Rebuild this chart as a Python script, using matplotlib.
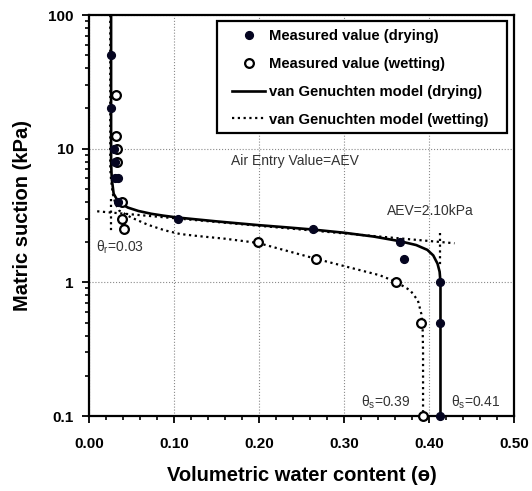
import matplotlib
matplotlib.use('Agg')
import matplotlib.pyplot as plt
from matplotlib.patches import Rectangle
from matplotlib.ticker import FixedLocator, NullFormatter, FixedFormatter

plt.rcParams['font.family'] = ['Liberation Sans', 'DejaVu Sans']
plt.rcParams['mathtext.fontset'] = 'custom'
plt.rcParams['mathtext.rm'] = 'Liberation Sans'
plt.rcParams['mathtext.it'] = 'Liberation Sans'

# Measured values
dry_theta = [0.026, 0.026, 0.029, 0.030, 0.031, 0.034, 0.034, 0.105, 0.264, 0.366, 0.371, 0.4135, 0.4135, 0.4135]
dry_h = [50, 20, 10, 8, 6, 6, 4, 3.0, 2.5, 2.0, 1.5, 1.0, 0.5, 0.1]
wet_theta = [0.032, 0.032, 0.033, 0.033, 0.039, 0.039, 0.041, 0.199, 0.267, 0.361, 0.391, 0.393]
wet_h = [25, 12.5, 10, 8, 4, 3.0, 2.5, 2.0, 1.5, 1.0, 0.5, 0.1]

# van Genuchten model curves
dry_model_theta = [0.026, 0.026, 0.0265, 0.027, 0.029, 0.034, 0.040, 0.046, 0.058, 0.073, 0.088, 0.105, 0.152, 0.199,
                   0.232, 0.264, 0.300, 0.335, 0.366, 0.385, 0.398, 0.405, 0.410, 0.4125, 0.4135, 0.4135]
dry_model_h = [100, 8.0, 6.5, 5.8, 4.6, 4.05, 3.80, 3.62, 3.42, 3.26, 3.15, 3.05, 2.85, 2.68,
               2.58, 2.48, 2.35, 2.20, 2.03, 1.90, 1.75, 1.59, 1.38, 1.2, 1.0, 0.1]
wet_model_theta = [0.025, 0.025, 0.026, 0.028, 0.031, 0.0355, 0.049, 0.069, 0.089, 0.107, 0.128,
                   0.160, 0.199, 0.230, 0.267, 0.311, 0.342, 0.361, 0.378, 0.387, 0.391, 0.3925, 0.393, 0.393]
wet_model_h = [100, 7.0, 5.8, 4.6, 3.9, 3.44, 3.07, 2.70, 2.45, 2.30, 2.22,
               2.12, 1.97, 1.74, 1.50, 1.27, 1.13, 1.01, 0.87, 0.73, 0.58, 0.46, 0.3, 0.1]

# construction lines
tangent_theta = [0.0096, 0.43]
tangent_h = [3.40, 1.96]
theta_r = 0.026
theta_r_h = [4.2, 2.33]
theta_s = 0.4135
theta_s_h = [2.32, 1.3]

x_ticks = [0.0, 0.1, 0.2, 0.3, 0.4, 0.5]
x_labels = ['0.00', '0.10', '0.20', '0.30', '0.40', '0.50']
y_ticks = [0.1, 1, 10, 100]
y_labels = ['0.1', '1', '10', '100']

fig = plt.figure(figsize=(5.32, 4.91), dpi=100)
ax = fig.add_axes([89/532, 1-416/491, 425/532, 401/491])
ax.set_xscale('linear')
ax.set_yscale('log')
ax.set_xlim(0, 0.5)
ax.set_ylim(0.1, 100)

ax.grid(True, which='major', color='#8a8a8a', linestyle=':', linewidth=0.8)
ax.set_axisbelow(True)

dk = '#050520'
dots = (0, (1, 1.6))
ax.plot(dry_model_theta, dry_model_h, '-', color='black', lw=1.9, label='van Genuchten model (drying)', zorder=3)
ax.plot(wet_model_theta, wet_model_h, linestyle=dots, color='black', lw=1.6,
        label='van Genuchten model (wetting)', zorder=3)
ax.plot(tangent_theta, tangent_h, linestyle=dots, color='black', lw=1.6, zorder=3)
ax.plot([theta_r, theta_r], theta_r_h, linestyle=dots, color='black', lw=1.6, zorder=3)
ax.plot([theta_s, theta_s], theta_s_h, linestyle=dots, color='black', lw=1.6, zorder=3)

ax.plot(wet_theta, wet_h, 'o', ms=6.3, mfc='white', mec='black', mew=1.6, ls='none',
        label='Measured value (wetting)', zorder=4, clip_on=False)
ax.plot(dry_theta, dry_h, 'o', ms=5.6, mfc=dk, mec=dk, mew=1, ls='none',
        label='Measured value (drying)', zorder=5, clip_on=False)

# legend frame drawn as a box, entries placed inside
ax.add_patch(Rectangle((0.3012, 0.7057), 0.6823, 0.2793, transform=ax.transAxes,
                       facecolor='white', edgecolor='black', lw=1.6, zorder=6))
handles, labels = ax.get_legend_handles_labels()
order = [3, 2, 0, 1]
leg = ax.legend([handles[i] for i in order], [labels[i] for i in order],
                loc='upper left', bbox_to_anchor=(232/532, 1-29/491), bbox_transform=fig.transFigure,
                prop={'weight': 'bold', 'size': 10.6}, frameon=False,
                handlelength=2.25, handletextpad=0.25, labelspacing=0.94, borderpad=0,
                borderaxespad=0)
leg.set_zorder(7)

tc = '#333333'
ax.text(0.167, 8.03, 'Air Entry Value=AEV', fontsize=10, color=tc, ha='left', va='center')
ax.text(0.351, 3.40, 'AEV=2.10kPa', fontsize=10, color=tc, ha='left', va='center')
ax.text(0.0087, 1.83, r'$\mathrm{\theta_r}$=0.03', fontsize=10, color=tc, ha='left', va='center')
ax.text(0.3205, 0.1256, r'$\mathrm{\theta_s}$=0.39', fontsize=10, color=tc, ha='left', va='center')
ax.text(0.4255, 0.1256, r'$\mathrm{\theta_s}$=0.41', fontsize=10, color=tc, ha='left', va='center')

ax.xaxis.set_major_locator(FixedLocator(x_ticks))
ax.xaxis.set_major_formatter(FixedFormatter(x_labels))
ax.xaxis.set_minor_locator(FixedLocator([i * 0.02 for i in range(26)]))
ax.yaxis.set_major_locator(FixedLocator(y_ticks))
ax.yaxis.set_major_formatter(FixedFormatter(y_labels))
ax.yaxis.set_minor_locator(FixedLocator([m * d for d in (0.1, 1, 10) for m in range(2, 10)]))
ax.yaxis.set_minor_formatter(NullFormatter())

ax.tick_params(which='major', direction='out', length=5, width=1.3, labelsize=11)
ax.tick_params(which='minor', direction='out', length=3, width=1.2)
ax.tick_params(axis='x', which='major', pad=10)
ax.tick_params(axis='y', which='major', pad=6)
for lab in ax.get_xticklabels() + ax.get_yticklabels():
    lab.set_fontweight('bold')

for s in ax.spines.values():
    s.set_linewidth(1.6)
    s.set_color('black')

ax.set_xlabel('Volumetric water content (ө)', fontsize=14.5, fontweight='bold', labelpad=11)
ax.set_ylabel('Matric suction (kPa)', fontsize=14.5, fontweight='bold', labelpad=12)

fig.savefig('out.png', dpi=100)
